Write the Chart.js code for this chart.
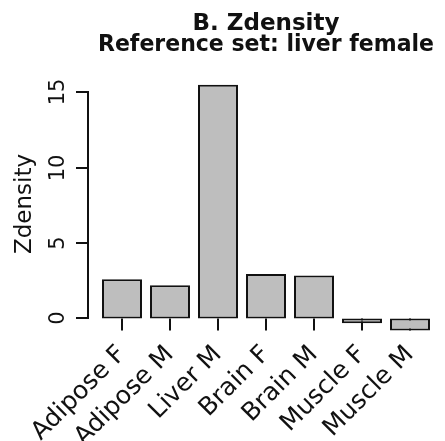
<!DOCTYPE html>
<html>
<head>
<meta charset="utf-8">
<script src="https://cdn.jsdelivr.net/npm/chart.js@4/dist/chart.umd.min.js"></script>
<style>
  html, body { margin: 0; padding: 0; background: #fff; }
  #wrap { width: 445px; height: 441px; }
</style>
</head>
<body>
<div id="wrap"><canvas id="zdensity" width="445" height="441"></canvas></div>
<script>
var tissues = ['Adipose F', 'Adipose M', 'Liver M', 'Brain F', 'Brain M', 'Muscle F', 'Muscle M'];
var zdensity = [2.6, 2.2, 15.5, 2.95, 2.85, -0.32, -0.8];
var yTicks = [0, 5, 10, 15];
var titleLines = ['B. Zdensity', 'Reference set: liver female'];
var yTitle = 'Zdensity';

var fontFamily = '"DejaVu Sans", sans-serif';

// R style axes: y axis only spans the tick range, x ticks hang from zero
var rAxes = {
    id: 'rAxes',
    beforeDatasetsDraw: function(chart) {
        var ctx = chart.ctx;
        var x = chart.scales.x;
        var y = chart.scales.y;
        var y0 = y.getPixelForValue(0);
        ctx.save();
        ctx.strokeStyle = '#111';
        ctx.lineWidth = 2;
        for (var i = 0; i < tissues.length; i++) {
            var px = Math.round(x.getPixelForValue(i));
            ctx.beginPath();
            ctx.moveTo(px, y0);
            ctx.lineTo(px, y0 + 12);
            ctx.stroke();
        }
        ctx.restore();
    },
    afterDraw: function(chart) {
        var ctx = chart.ctx;
        var y = chart.scales.y;
        var ax = chart.chartArea.left - 10;
        ctx.save();
        ctx.strokeStyle = '#111';
        ctx.lineWidth = 2;
        ctx.beginPath();
        ctx.moveTo(ax, y.getPixelForValue(yTicks[0]));
        ctx.lineTo(ax, y.getPixelForValue(yTicks[yTicks.length - 1]));
        ctx.stroke();
        ctx.fillStyle = '#111';
        ctx.textAlign = 'center';
        ctx.textBaseline = 'middle';
        yTicks.forEach(function(v) {
            var py = Math.round(y.getPixelForValue(v));
            ctx.beginPath();
            ctx.moveTo(ax - 12, py);
            ctx.lineTo(ax + 1, py);
            ctx.stroke();
            ctx.save();
            ctx.translate(ax - 29, py);
            ctx.rotate(-Math.PI / 2);
            ctx.font = '21px ' + fontFamily;
            ctx.fillText(String(v), 0, 0);
            ctx.restore();
        });
        var mid = (chart.chartArea.top + chart.chartArea.bottom) / 2;
        ctx.save();
        ctx.translate(25, mid);
        ctx.rotate(-Math.PI / 2);
        ctx.font = '23px ' + fontFamily;
        ctx.fillText(yTitle, 0, 0);
        ctx.restore();
        ctx.restore();
    }
};

var chart = new Chart(document.getElementById('zdensity'), {
    type: 'bar',
    data: {
        labels: tissues,
        datasets: [
            {
                data: zdensity,
                backgroundColor: '#bebebe',
                borderColor: '#111',
                borderWidth: 2,
                borderSkipped: false,
                barPercentage: 0.833,
                categoryPercentage: 1
            }
        ]
    },
    options: {
        responsive: false,
        animation: false,
        layout: {
            padding: { left: 98, right: 11, top: 0, bottom: 0 }
        },
        plugins: {
            legend: { display: false },
            tooltip: { enabled: false },
            title: {
                display: true,
                text: titleLines,
                color: '#111',
                font: { family: fontFamily, size: 23, weight: 'bold', lineHeight: 0.913 },
                padding: { top: 14, bottom: 18 }
            }
        },
        scales: {
            x: {
                grid: { display: false, drawTicks: false },
                border: { display: false },
                ticks: {
                    autoSkip: false,
                    minRotation: 45,
                    maxRotation: 45,
                    padding: 6,
                    color: '#111',
                    font: { family: fontFamily, size: 25 }
                },
                afterFit: function(scale) {
                    scale.paddingLeft = 0;
                    scale.paddingRight = 0;
                    scale.height = 107;
                }
            },
            y: {
                display: false,
                min: -1.03,
                max: 16.22
            }
        }
    },
    plugins: [rAxes]
});
</script>
</body>
</html>
